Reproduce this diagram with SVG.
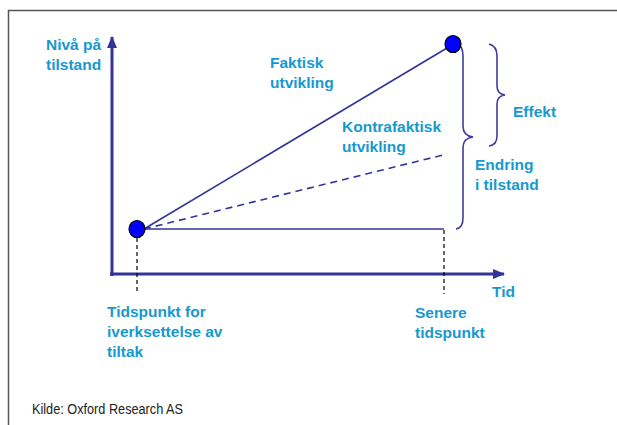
<svg xmlns="http://www.w3.org/2000/svg" width="617" height="425" viewBox="0 0 617 425">
<defs>
<style>
.lbl{font-family:"Liberation Sans",Arial,sans-serif;font-weight:bold;font-size:15.5px;fill:#1699cf}
.src{font-family:"Liberation Sans",Arial,sans-serif;font-size:14px;fill:#222}
.ax{stroke:#33339a;stroke-width:3;fill:none}
.ln{stroke:#33339a;stroke-width:1.6;fill:none}
.br{stroke:#3d3d9e;stroke-width:1.6;fill:none}
.gd{stroke:#000;stroke-width:1.2;stroke-dasharray:4,3;fill:none}
.pt{fill:#0000ff;stroke:#000;stroke-width:1.2}
</style>
<marker id="ahl" markerWidth="12" markerHeight="10" refX="11" refY="5" orient="auto" markerUnits="userSpaceOnUse" viewBox="0 0 12 10">
<path d="M0,0 L12,5 L0,10 z" fill="#33339a"/>
</marker>
</defs>
<rect x="8.5" y="10.5" width="620" height="430" fill="none" stroke="#555" stroke-width="1.5"/>
<g id="connectors">
<line class="ax" x1="112" y1="276" x2="112" y2="37" marker-end="url(#ahl)"/>
<line class="ax" x1="110" y1="274" x2="504" y2="274" marker-end="url(#ahl)"/>
<line class="ln" x1="144" y1="229" x2="447" y2="48"/>
<line class="ln" x1="144" y1="229" x2="447" y2="154" stroke-dasharray="7,5"/>
<line class="ln" x1="144" y1="229" x2="444" y2="229"/>
<line class="gd" x1="137" y1="238" x2="137" y2="294"/>
<line class="gd" x1="444" y1="230" x2="444" y2="294"/>
</g>
<g id="brace-endring">
<path class="br" d="M457,43 Q463,46 463,56 L463,126 Q463,136 473,137 Q463,138 463,148 L463,218 Q463,228 456,229"/>
</g>
<g id="brace-effekt">
<path class="br" d="M489,44 Q497,46 497,56 L497,86 Q497,94 505,95 Q497,96 497,104 L497,136 Q497,145 489,146"/>
</g>
<g id="point-start"><ellipse class="pt" cx="137" cy="229" rx="8" ry="8.5"/></g>
<g id="point-end"><ellipse class="pt" cx="453" cy="44" rx="8" ry="8.5"/></g>
<g id="label-niva"><text class="lbl" x="46" y="50">Nivå på</text><text class="lbl" x="46" y="70">tilstand</text></g>
<g id="label-faktisk"><text class="lbl" x="270" y="68">Faktisk</text><text class="lbl" x="270" y="88">utvikling</text></g>
<g id="label-kontra"><text class="lbl" x="342" y="132">Kontrafaktisk</text><text class="lbl" x="342" y="152">utvikling</text></g>
<g id="label-effekt"><text class="lbl" x="513" y="117">Effekt</text></g>
<g id="label-endring"><text class="lbl" x="475" y="170">Endring</text><text class="lbl" x="475" y="190">i tilstand</text></g>
<g id="label-tid"><text class="lbl" x="492" y="297">Tid</text></g>
<g id="label-senere"><text class="lbl" x="415" y="318">Senere</text><text class="lbl" x="415" y="338">tidspunkt</text></g>
<g id="label-tidspunkt"><text class="lbl" x="107" y="317">Tidspunkt for</text><text class="lbl" x="107" y="337">iverksettelse av</text><text class="lbl" x="107" y="357">tiltak</text></g>
<text class="src" x="32" y="414" textLength="151" lengthAdjust="spacingAndGlyphs">Kilde: Oxford Research AS</text>
</svg>
